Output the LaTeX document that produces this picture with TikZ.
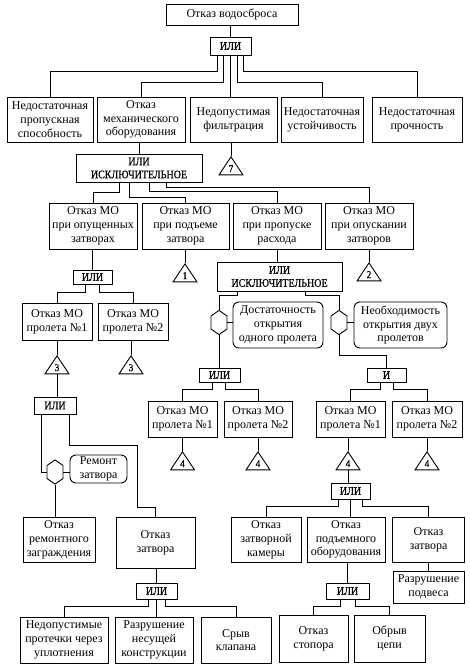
\documentclass[tikz,border=0pt]{standalone}
\usepackage{fontspec}
\setmainfont{Liberation Serif}
\newfontfamily\gatefont{Liberation Serif}[FakeStretch=0.87, FakeBold=0.8]
\usetikzlibrary{shapes.geometric,shapes.symbols}

\tikzstyle{event}=[rectangle, draw=black, align=center, inner sep=0.5pt, line width=0.9pt]
\tikzstyle{gate}=[rectangle, draw=black, align=center, inner sep=0.5pt, line width=0.9pt, font=\gatefont\fontsize{11.5}{13}\selectfont]
\tikzstyle{cond}=[rectangle, draw=black, align=center, inner sep=0.5pt, rounded corners=6pt, line width=0.9pt]
\tikzstyle{hexa}=[signal, signal to=north and south, signal pointer angle=110, draw=black, minimum width=16pt, minimum height=13pt, inner sep=0pt, line width=0.9pt]
\tikzstyle{transfer}=[isosceles triangle, isosceles triangle apex angle=67, shape border rotate=90, draw=black, minimum width=18pt, minimum height=18pt, inner sep=0pt, line width=0.9pt, font=\gatefont\fontsize{10.5}{11}\selectfont]
\tikzstyle{wire}=[line width=0.9pt]
\tikzset{wh/.style 2 args={minimum width=#1pt, minimum height=#2pt}}

\begin{document}
\begin{tikzpicture}[x=1pt, y=-1pt, font=\fontsize{12}{13.8}\selectfont]
    \useasboundingbox (0,0) rectangle (470,671);

    % top event and first gate
    \node[event, wh={132}{21}] (spillFail) at (232,14.5) {Отказ водосброса};
    \node[gate, wh={41}{18}] (or0) at (230.5,46) {ИЛИ};
    \draw[wire] (or0.north |- spillFail.south) -- (or0.north);

    \node[event, wh={86}{45}] (capFail) at (50,119.5) {Недостаточная\\пропускная\\способность};
    \node[event, wh={88}{45}] (mechFail) at (141,119.5) {Отказ\\механического\\оборудования};
    \node[event, wh={87}{45}] (filtFail) at (233.5,119.5) {Недопустимая\\фильтрация};
    \node[event, wh={82}{45}] (stabFail) at (322,119.5) {Недостаточная\\устойчивость};
    \node[event, wh={90}{45}] (strFail) at (417,119.5) {Недостаточная\\прочность};

    \draw[wire] ([xshift=-13.5pt]or0.south) |- ([yshift=25pt]capFail.north) -- (capFail.north);
    \draw[wire] ([xshift=-7.5pt]or0.south) |- ([yshift=14pt]mechFail.north) -- (mechFail.north);
    \draw[wire] (or0.south) -- (or0.south |- filtFail.north);
    \draw[wire] ([xshift=6.5pt]or0.south) |- ([yshift=14pt]stabFail.north) -- (stabFail.north);
    \draw[wire] ([xshift=12.5pt]or0.south) |- ([yshift=25pt]strFail.north) -- (strFail.north);

    \node[transfer, anchor=apex] (tr7) at (231,156) {7};
    \draw[wire] (tr7.apex |- filtFail.south) -- (tr7.apex);

    % mechanical equipment branch
    \node[gate, wh={126}{28}] (xor1) at (139,168) {ИЛИ\\ИСКЛЮЧИТЕЛЬНОЕ};
    \draw[wire] (xor1.north |- mechFail.south) -- (xor1.north);

    \node[event, wh={88}{46}] (clsFail) at (93,226) {Отказ МО\\при опущенных\\затворах};
    \node[event, wh={87}{46}] (liftFail) at (185.5,226) {Отказ МО\\при подъеме\\затвора};
    \node[event, wh={88}{46}] (passFail) at (277,226) {Отказ МО\\при пропуске\\расхода};
    \node[event, wh={88}{46}] (lowFail) at (369,226) {Отказ МО\\при опускании\\затворов};

    \draw[wire] ([xshift=-20pt]xor1.south) |- ([yshift=10pt]clsFail.north) -- (clsFail.north);
    \draw[wire] ([xshift=-10pt]xor1.south) |- ([yshift=5pt]liftFail.north) -- (liftFail.north);
    \draw[wire] ([xshift=10pt]xor1.south) |- ([yshift=11pt]passFail.north) -- (passFail.north);
    \draw[wire] ([xshift=27pt]xor1.south) |- ([yshift=15pt]lowFail.north) -- (lowFail.north);

    \node[transfer, anchor=apex] (tr1) at (185,263) {1};
    \draw[wire] (tr1.apex |- liftFail.south) -- (tr1.apex);
    \node[transfer, anchor=apex] (tr2) at (369,262) {2};
    \draw[wire] (lowFail.south) -- (tr2.apex);

    % closed gates
    \node[gate, wh={39}{14}] (or2) at (92.5,277) {ИЛИ};
    \draw[wire] (or2.north |- clsFail.south) -- (or2.north);

    \node[event, wh={70}{37}] (span1L) at (57,321.5) {Отказ МО\\пролета №1};
    \node[event, wh={70}{37}] (span2L) at (133,321.5) {Отказ МО\\пролета №2};
    \draw[wire] ([xshift=-7.5pt]or2.south) |- ([yshift=10pt]span1L.north) -- (span1L.north);
    \draw[wire] ([xshift=6.5pt]or2.south) |- ([yshift=10pt]span2L.north) -- (span2L.north);

    \node[transfer, anchor=apex] (tr3a) at (57,355) {3};
    \draw[wire] (span1L.south) -- (tr3a.apex);
    \node[transfer, anchor=apex] (tr3b) at (131,355) {3};
    \draw[wire] (tr3b.apex |- span2L.south) -- (tr3b.apex);

    \node[gate, wh={42}{17}] (or4) at (55,405.5) {ИЛИ};
    \draw[wire] (tr3a.south) -- (tr3a.south |- or4.north);

    \node[hexa] (hx3) at (55,472) {};
    \node[cond, wh={57}{28}] (repair) at (98.5,469) {Ремонт\\затвора};
    \draw[wire] ([xshift=-14pt]or4.south) |- (hx3.west);
    \draw[wire] (hx3.east) -- (hx3.east -| repair.west);

    \node[event, wh={72}{45}] (barrierFail) at (59,539.5) {Отказ\\ремонтного\\заграждения};
    \node[event, wh={79}{51}] (gateFail1) at (155.5,542.5) {Отказ\\затвора};
    \draw[wire] (hx3.south) -- (hx3.south |- barrierFail.north);
    \draw[wire] ([xshift=14pt]or4.south) |- (137,445) -- (137,507) -| (gateFail1.north);

    \node[gate, wh={41}{16}] (or7) at (156.5,591) {ИЛИ};
    \draw[wire] (or7.north |- gateFail1.south) -- (or7.north);

    \node[event, wh={88}{46}] (leakFail) at (64,640) {Недопустимые\\протечки через\\уплотнения};
    \node[event, wh={78}{46}] (structFail) at (154,640) {Разрушение\\несущей\\конструкции};
    \node[event, wh={70}{46}] (valveFail) at (236,640) {Срыв\\клапана};
    \draw[wire] ([xshift=-8.5pt]or7.south) |- ([yshift=10pt]leakFail.north) -- (leakFail.north);
    \draw[wire] (or7.south) -- (or7.south |- structFail.north);
    \draw[wire] ([xshift=8.5pt]or7.south) |- ([yshift=10pt]valveFail.north) -- (valveFail.north);

    % discharge branch
    \node[gate, wh={125}{29}] (xor2) at (279.5,276.5) {ИЛИ\\ИСКЛЮЧИТЕЛЬНОЕ};
    \draw[wire] (passFail.south) -- (passFail.south |- xor2.north);

    \node[hexa] (hx1) at (219,322.5) {};
    \node[cond, wh={90}{46}] (oneSpan) at (278,325) {Достаточность\\открытия\\одного пролета};
    \draw[wire] ([xshift=-42.5pt]xor2.south) |- ([yshift=14pt]hx1.north) -- (hx1.north);
    \draw[wire] (hx1.east) -- (hx1.east -| oneSpan.west);

    \node[hexa] (hx2) at (339,322.5) {};
    \node[cond, wh={93}{46}] (twoSpan) at (400.5,325) {Необходимость\\открытия двух\\пролетов};
    \draw[wire] ([xshift=25.5pt]xor2.south) |- ([yshift=14pt]hx2.north) -- (hx2.north);
    \draw[wire] (hx2.east) -- (hx2.east -| twoSpan.west);

    \node[gate, wh={41}{14}] (or3) at (219.5,375) {ИЛИ};
    \draw[wire] (hx1.south) -- (hx1.south |- or3.north);
    \node[gate, wh={39}{14}] (and1) at (386.5,375) {И};
    \draw[wire] (hx2.south) |- ([yshift=12pt]and1.north) -- (and1.north);

    \node[event, wh={69}{36}] (span1M) at (182.5,419) {Отказ МО\\пролета №1};
    \node[event, wh={68}{36}] (span2M) at (258,419) {Отказ МО\\пролета №2};
    \draw[wire] ([xshift=-7.5pt]or3.south) |- ([yshift=11pt]span1M.north) -- (span1M.north);
    \draw[wire] ([xshift=5.5pt]or3.south) |- ([yshift=11pt]span2M.north) -- (span2M.north);

    \node[event, wh={69}{36}] (span1R) at (350.5,419) {Отказ МО\\пролета №1};
    \node[event, wh={70}{36}] (span2R) at (427,419) {Отказ МО\\пролета №2};
    \draw[wire] ([xshift=-6.5pt]and1.south) |- ([yshift=11pt]span1R.north) -- (span1R.north);
    \draw[wire] ([xshift=6.5pt]and1.south) |- ([yshift=11pt]span2R.north) -- (span2R.north);

    \node[transfer, anchor=apex] (tr4a) at (182.5,451) {4};
    \draw[wire] (span1M.south) -- (tr4a.apex);
    \node[transfer, anchor=apex] (tr4b) at (258,451) {4};
    \draw[wire] (span2M.south) -- (tr4b.apex);
    \node[transfer, anchor=apex] (tr4c) at (348,451) {4};
    \draw[wire] (tr4c.apex |- span1R.south) -- (tr4c.apex);
    \node[transfer, anchor=apex] (tr4d) at (427,451) {4};
    \draw[wire] (span2R.south) -- (tr4d.apex);

    % span 1 with both spans needed
    \node[gate, wh={39}{16}] (or5) at (350.5,491) {ИЛИ};
    \draw[wire] (tr4c.south) -- (tr4c.south |- or5.north);

    \node[event, wh={70}{45}] (chamberFail) at (266,539.5) {Отказ\\затворной\\камеры};
    \node[event, wh={78}{45}] (hoistFail) at (346,539.5) {Отказ\\подъемного\\оборудования};
    \node[event, wh={72}{45}] (gateFail2) at (428.5,539.5) {Отказ\\затвора};
    \draw[wire] ([xshift=-12.5pt]or5.south) |- ([yshift=10pt]chamberFail.north) -- (chamberFail.north);
    \draw[wire] (or5.south) -- (or5.south |- hoistFail.north);
    \draw[wire] ([xshift=11.5pt]or5.south) |- ([yshift=10pt]gateFail2.north) -- (gateFail2.north);

    \node[event, wh={71}{32}] (hangerFail) at (428.5,587) {Разрушение\\подвеса};
    \draw[wire] (gateFail2.south) -- (hangerFail.north);

    \node[gate, wh={43}{16}] (or6) at (347.5,591) {ИЛИ};
    \draw[wire] (or6.north |- hoistFail.south) -- (or6.north);

    \node[event, wh={69}{47}] (stopFail) at (313.5,638.5) {Отказ\\стопора};
    \node[event, wh={71}{47}] (chainFail) at (389.5,638.5) {Обрыв\\цепи};
    \draw[wire] ([xshift=-7.5pt]or6.south) |- ([yshift=8pt]stopFail.north) -- (stopFail.north);
    \draw[wire] ([xshift=7.5pt]or6.south) |- ([yshift=8pt]chainFail.north) -- (chainFail.north);
\end{tikzpicture}
\end{document}
